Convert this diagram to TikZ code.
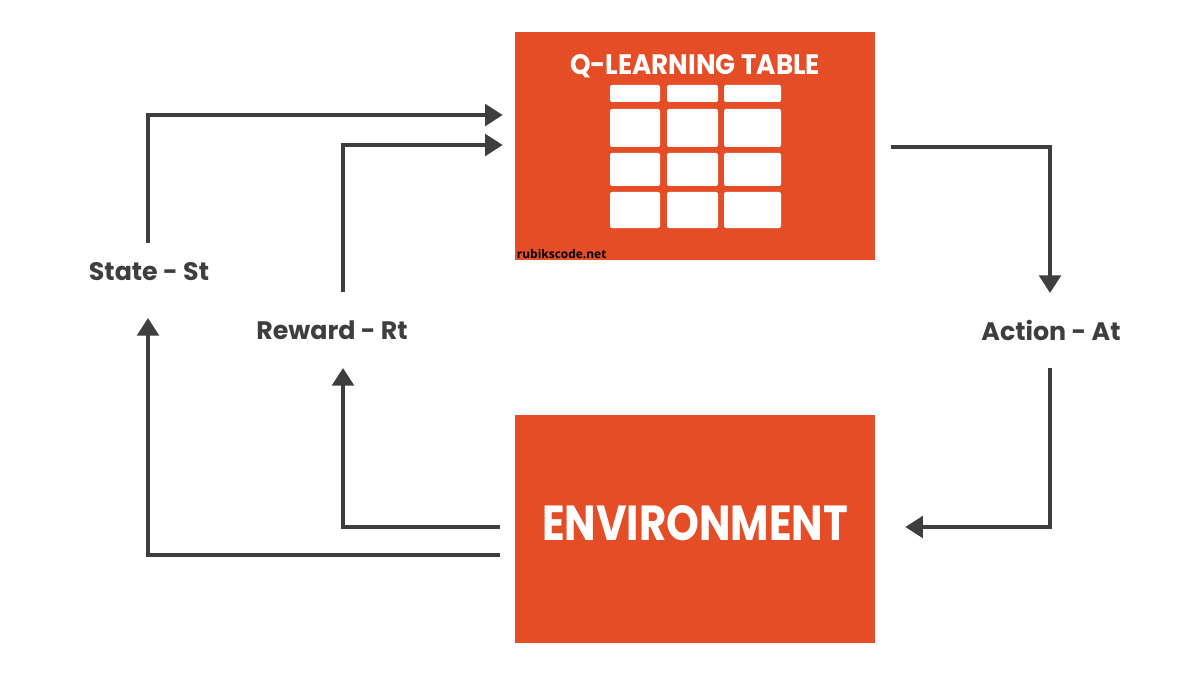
\documentclass[tikz,border=0pt]{standalone}
\usepackage{fontspec}
\setmainfont{Poppins}
\newfontfamily\sitefont{Open Sans}
\usetikzlibrary{arrows.meta,calc}
\definecolor{qred}{HTML}{E44D26}
\definecolor{ink}{HTML}{3E3E3E}

\begin{document}
\begin{tikzpicture}[
  x=0.025cm, y=-0.025cm,
  block/.style={fill=qred, minimum width=9cm, minimum height=5.7cm, inner sep=0pt},
  lbl/.style={font=\fontsize{18}{20}\selectfont\bfseries, text=ink, inner sep=0pt},
  arr/.style={draw=ink, line width=2.5pt, -{Triangle[length=0.44cm, width=0.54cm]}},
  cell/.style={fill=white, rounded corners=1.5pt},
]
  \useasboundingbox (0,0) rectangle (1200,675);

  % ===== Q-table =====
  \node[block] (qtable) at (695,146) {};
  \node[font=\fontsize{20}{22}\selectfont\bfseries, text=white, inner sep=0pt]
    (qtitle) at ($(qtable.north)+(0,34)$) {\scalebox{0.93}[1]{Q-LEARNING TABLE}};
  \foreach \xa/\xb in {610/660, 667/718, 724/781}
    \foreach \ya/\yb in {85/102, 109/147, 153/186, 192/228}
      \fill[white, rounded corners=1.5pt] (\xa,\ya) rectangle (\xb,\yb);
  \node[font=\sitefont\fontsize{8.5}{10}\selectfont\bfseries, anchor=base west, inner sep=0pt]
    (site) at ($(qtable.south west)+(2,-2)$) {rubikscode.net};

  % ===== Environment =====
  \node[block] (env) at (695,529) {};
  \node[font=\fontsize{35}{38}\selectfont\bfseries, text=white, inner sep=0pt]
    (envtext) at ($(env.center)+(0,-6)$) {\scalebox{0.85}[1]{ENVIRONMENT}};

  % ===== labels =====
  \node[lbl] (state) at (149,272) {State - St};
  \node[lbl] (reward) at (332,330) {Reward - Rt};
  \node[lbl] (action) at (1051,330) {Action - At};

  % ===== connectors =====
  \draw[arr] ($(state.center)+(-1,-29)$) |- ($(qtable.west)+(-12,-31)$);
  \draw[arr] ($(reward.center)+(11,-38)$) |- ($(qtable.west)+(-12,-1)$);
  \draw[arr] ($(qtable.east)+(16,1)$) -| ($(action.center)+(-1,-37)$);
  \draw[arr] ($(action.center)+(-1,38)$) |- ($(env.east)+(30,-2)$);
  \draw[arr] ($(env.west)+(-15,-2)$) -| ($(reward.center)+(11,38)$);
  \draw[arr] ($(env.west)+(-15,26)$) -| ($(state.center)+(-1,46)$);
\end{tikzpicture}
\end{document}
